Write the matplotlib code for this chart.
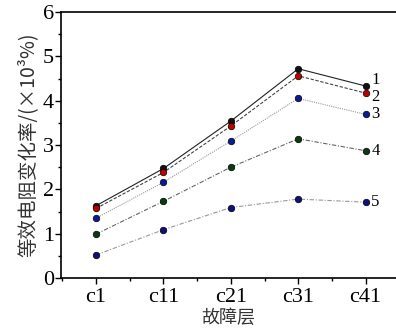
import matplotlib.pyplot as plt
from matplotlib.ticker import MultipleLocator

plt.rcParams['font.family'] = 'serif'
plt.rcParams['font.serif'] = ['Liberation Serif', 'DejaVu Serif']
plt.rcParams['mathtext.fontset'] = 'stix'

layers = ['c1', 'c11', 'c21', 'c31', 'c41']
s1 = [1.63, 2.47, 3.54, 4.72, 4.33]
s2 = [1.57, 2.38, 3.43, 4.56, 4.17]
s3 = [1.35, 2.16, 3.09, 4.05, 3.69]
s4 = [0.99, 1.73, 2.50, 3.14, 2.87]
s5 = [0.52, 1.09, 1.59, 1.78, 1.71]
names = ['1', '2', '3', '4', '5']

series = [s1, s2, s3, s4, s5]
faces = ['#111111', '#c00000', '#0a1a9a', '#0c3a10', '#10107a']
lines = ['#222222', '#444444', '#999999', '#666666', '#999999']
styles = ['-', (0, (3, 1.5)), (0, (1, 1)), (0, (4, 1.5, 1, 1.5)), (0, (4, 1.5, 1, 1.5))]
offsets = [4, -3, 0, 0, 0]

fig = plt.figure(figsize=(3.96, 3.36), dpi=100)
ax = fig.add_axes([61/396, 58/336, 1 - 61/396, 266/336])

x = list(range(len(layers)))
for ys, fc, lc, ls, nm, dy in zip(series, faces, lines, styles, names, offsets):
    ax.plot(x, ys, color=lc, linestyle=ls, linewidth=0.8, zorder=2)
    ax.scatter(x, ys, s=22, facecolor=fc, edgecolor='black', linewidth=0.5, zorder=3)
    ax.annotate(nm, (x[-1], ys[-1]), xytext=(4, dy), textcoords='offset points',
                fontsize=12, va='center', ha='left')

ax.set_xlim(-0.52, 4.45)
ax.set_ylim(0, 6)
ax.set_xticks(x)
ax.set_xticklabels(layers)
ax.xaxis.set_minor_locator(MultipleLocator(0.5))
ax.yaxis.set_major_locator(MultipleLocator(1))
ax.yaxis.set_minor_locator(MultipleLocator(0.5))
ax.tick_params(axis='both', which='major', labelsize=16, direction='out', length=4, width=1)
ax.tick_params(axis='both', which='minor', direction='out', length=2, width=1)
ax.tick_params(axis='y', pad=1)
ax.spines['right'].set_visible(False)
for sp in ['left', 'bottom', 'top']:
    ax.spines[sp].set_linewidth(1.2)

ax.set_xlabel('故障层', fontsize=13, family=['Noto Sans CJK SC'], labelpad=1, color='#333333')
ax.set_ylabel('等效电阻变化率/(×10³%)', fontsize=14, family=['Noto Sans CJK SC', 'DejaVu Sans'],
              labelpad=3, color='#333333')

fig.savefig('out.png', dpi=100)
